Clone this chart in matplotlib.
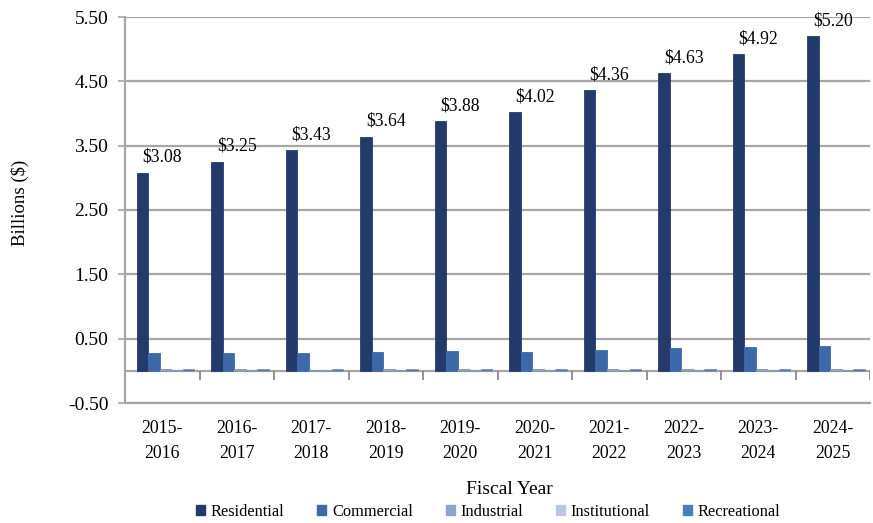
import matplotlib
matplotlib.use("Agg")
import matplotlib.pyplot as plt
from matplotlib.patches import Patch
import numpy as np

# Fiscal years and construction value by sector (billions of dollars)
years = ["2015-\n2016", "2016-\n2017", "2017-\n2018", "2018-\n2019", "2019-\n2020",
         "2020-\n2021", "2021-\n2022", "2022-\n2023", "2023-\n2024", "2024-\n2025"]
residential = [3.08, 3.25, 3.43, 3.64, 3.88, 4.02, 4.36, 4.63, 4.92, 5.20]
commercial = [0.27, 0.27, 0.27, 0.30, 0.31, 0.30, 0.33, 0.35, 0.37, 0.38]
industrial = [0.03, 0.03, 0.02, 0.03, 0.03, 0.03, 0.03, 0.03, 0.03, 0.03]
institutional = [0.02, 0.02, 0.02, 0.02, 0.02, 0.02, 0.02, 0.02, 0.02, 0.02]
recreational = [0.03, 0.03, 0.03, 0.03, 0.03, 0.03, 0.03, 0.03, 0.03, 0.03]
y_ticks = [-0.50, 0.50, 1.50, 2.50, 3.50, 4.50, 5.50]

series = [
    ("Residential", residential, "#243A6B"),
    ("Commercial", commercial, "#3D69A8"),
    ("Industrial", industrial, "#8FA3CF"),
    ("Institutional", institutional, "#BAC6E2"),
    ("Recreational", recreational, "#4C7DC0"),
]

serif = ["Liberation Serif", "DejaVu Serif"]
plt.rcParams["font.family"] = serif

fig = plt.figure(figsize=(8.73, 5.23), dpi=100)
ax = fig.add_axes([125 / 873, 120 / 523, 745 / 873, 386 / 523])

n = len(years)
x0 = np.arange(n)
bw = 0.155
grid_c = "#A6A6A6"

# gridlines on the back wall
for t in y_ticks:
    ax.axhline(t, color=grid_c, lw=1.6, zorder=0)

for k, (name, vals, col) in enumerate(series):
    edge = col if k < 2 else "#8A8FA8"
    ax.bar(x0 + bw * (k + 1.5), vals, width=bw, color=col, edgecolor=edge,
           linewidth=0.6, zorder=3, label=name)

# floor line with category separators
ax.axhline(0, color=grid_c, lw=1.6, zorder=2)
ax.vlines(np.arange(n + 1), -0.14, 0, color="#808080", lw=1.2, zorder=2)

# value labels over the residential bars
for i, v in enumerate(residential):
    ax.annotate(f"${v:.2f}", (i + 0.5, v), xytext=(0, 5), textcoords="offset points",
                ha="center", va="bottom", fontsize=12.8, color="black")

ax.set_xlim(0, n)
ax.set_ylim(-0.5, 5.5)
ax.set_yticks(y_ticks)
ax.set_yticklabels([f"{t:.2f}" for t in y_ticks], fontsize=14)
ax.set_xticks(x0 + 0.5)
ax.set_xticklabels(years, fontsize=12.8, linespacing=1.65)
ax.tick_params(axis="x", length=0, pad=12)
ax.tick_params(axis="y", length=5, color=grid_c, width=1.2, pad=7)

for s in ["top", "right"]:
    ax.spines[s].set_visible(False)
for s in ["left", "bottom"]:
    ax.spines[s].set_color(grid_c)
    ax.spines[s].set_linewidth(1.6)

fig.text(20 / 873, 1 - 203 / 523, "Billions ($)", rotation=90, ha="center", va="center",
         fontsize=13.5)
fig.text(509 / 873, 1 - 490 / 523, "Fiscal Year", ha="center", va="center", fontsize=14)

handles = [Patch(facecolor=c, edgecolor=c) for _, _, c in series]
fig.legend(handles, [s[0] for s in series], loc="center", bbox_to_anchor=(488 / 873, 1 - 512 / 523),
           ncol=5, frameon=False, fontsize=11.8, handlelength=0.55, handleheight=0.55,
           handletextpad=0.35, columnspacing=2.0, borderpad=0.1)

fig.savefig("out.png", dpi=100)
